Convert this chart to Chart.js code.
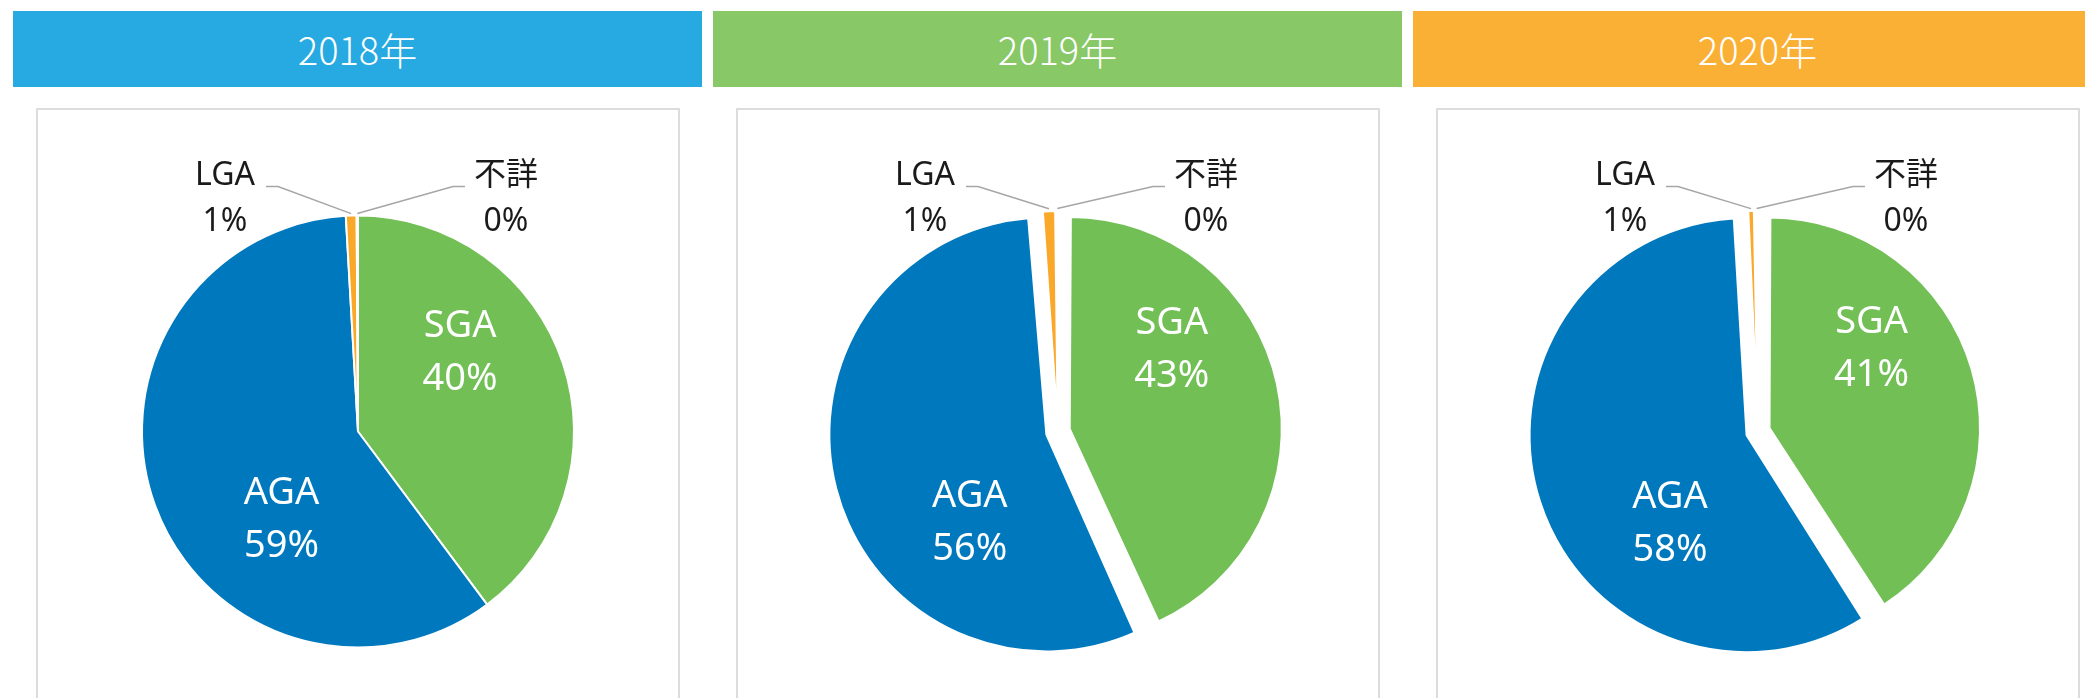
<!DOCTYPE html>
<html lang="ja">
<head>
  <meta charset="UTF-8">
  <title>脱毛症の内訳</title>
  <script src="https://cdn.jsdelivr.net/npm/chart.js"></script>
  <style>
    html, body {
      margin: 0;
      padding: 0;
      background: #fff;
    }
    body {
      width: 2085px;
      height: 698px;
      overflow: hidden;
      position: relative;
    }
    .head {
      position: absolute;
      top: 11px;
      width: 689px;
      height: 76px;
      line-height: 76px;
      color: #fff;
      text-align: center;
      font-family: 'Noto Sans CJK JP', sans-serif;
      font-weight: 300;
      font-size: 38px;
    }
    .box {
      position: absolute;
      top: 108px;
      width: 640px;
      height: 700px;
      border: 2px solid #dcdcdc;
    }
    .box canvas {
      position: absolute;
      left: 0;
      top: 0;
    }
  </style>
</head>
<body>
  <div id="wrap"></div>
  <script>
    const years = ['2018年', '2019年', '2020年'];
    const categories = ['SGA', 'AGA', 'LGA', '不詳'];
    const values2018 = [39.8, 59.3, 0.8, 0.1];
    const values2019 = [43.2, 55.6, 1.1, 0.1];
    const values2020 = [40.9, 58.3, 0.6, 0.2];
    const allValues = [values2018, values2019, values2020];

    const headColors = ['#27AAE1', '#88C866', '#FAB034'];
    const sliceColors = ['#71BF55', '#0078BE', '#F9A82A', '#A5A5A5'];
    // arc offsets per slice (chart.js draws them at offset/4)
    const explode = [
      [0, 0, 0, 0],
      [48, 48, 32, 32],
      [48, 48, 32, 32]
    ];
    const OFFSET_DIV = 4;

    // labels drawn next to / inside the slices
    const sliceLabels = {
      id: 'sliceLabels',
      afterDatasetsDraw(chart, args, opts) {
        const ctx = chart.ctx;
        const ds = chart.data.datasets[0];
        const total = ds.data.reduce((s, v) => s + v, 0);
        chart.getDatasetMeta(0).data.forEach((arc, i) => {
          const p = arc.getProps(['x', 'y', 'startAngle', 'endAngle', 'outerRadius'], true);
          const mid = (p.startAngle + p.endAngle) / 2;
          const shift = (arc.options.offset || 0) / OFFSET_DIV;
          const ax = p.x + Math.cos(mid) * shift;
          const ay = p.y + Math.sin(mid) * shift;
          const R = opts.r;
          const name = chart.data.labels[i];
          const pct = Math.round(ds.data[i] / total * 100) + '%';
          ctx.save();
          ctx.textAlign = 'center';
          ctx.textBaseline = 'middle';
          const inside = opts.inside[name];
          if (inside) {
            const a = (inside.angle - 90) * Math.PI / 180;
            const lx = ax + Math.cos(a) * inside.dist * R;
            const ly = ay + Math.sin(a) * inside.dist * R;
            ctx.fillStyle = '#fff';
            ctx.font = '38px "Noto Sans", "Noto Sans CJK JP", sans-serif';
            ctx.fillText(name, lx, ly - 26);
            ctx.fillText(pct, lx, ly + 27);
          } else {
            const o = opts.outside[name];
            const sx = ax + Math.cos(mid) * (p.outerRadius + shift + 2);
            const sy = ay + Math.sin(mid) * (p.outerRadius + shift + 2);
            const ex = p.x + o.side * o.elbow;
            const ey = p.y - R - 29;
            ctx.strokeStyle = '#a6a6a6';
            ctx.lineWidth = 1.5;
            ctx.beginPath();
            ctx.moveTo(sx, sy);
            ctx.lineTo(ex, ey);
            ctx.lineTo(ex + o.side * 12, ey);
            ctx.stroke();
            const tx = ex + o.side * 53;
            ctx.fillStyle = '#1a1a1a';
            ctx.font = '32px "Noto Sans", "Noto Sans CJK JP", sans-serif';
            ctx.fillText(name, tx, p.y - R - 40);
            ctx.fillText(pct, tx, p.y - R + 6);
          }
          ctx.restore();
        });
      }
    };

    const wrap = document.getElementById('wrap');

    years.forEach((year, k) => {
      const head = document.createElement('div');
      head.className = 'head';
      head.style.left = (13 + 700 * k) + 'px';
      head.style.background = headColors[k];
      head.textContent = year;
      wrap.appendChild(head);

      const box = document.createElement('div');
      box.className = 'box';
      box.style.left = (36 + 700 * k) + 'px';
      const canvas = document.createElement('canvas');
      canvas.width = 640;
      canvas.height = 643;
      box.appendChild(canvas);
      wrap.appendChild(box);

      const exploded = explode[k][0] > 0;
      new Chart(canvas.getContext('2d'), {
        type: 'pie',
        data: {
          labels: categories,
          datasets: [{
            data: allValues[k],
            backgroundColor: sliceColors,
            borderColor: '#ffffff',
            borderWidth: 2,
            offset: explode[k],
            radius: exploded ? 205 : 216
          }]
        },
        options: {
          responsive: false,
          animation: false,
          events: [],
          layout: { padding: 0 },
          plugins: {
            legend: { display: false },
            tooltip: { enabled: false },
            sliceLabels: {
              r: 216,
              inside: {
                'SGA': { angle: 52, dist: 0.6 },
                'AGA': { angle: 221, dist: 0.54 }
              },
              outside: {
                'LGA': { side: -1, elbow: 80 },
                '不詳': { side: 1, elbow: 95 }
              }
            }
          }
        },
        plugins: [sliceLabels]
      });
    });
  </script>
</body>
</html>
